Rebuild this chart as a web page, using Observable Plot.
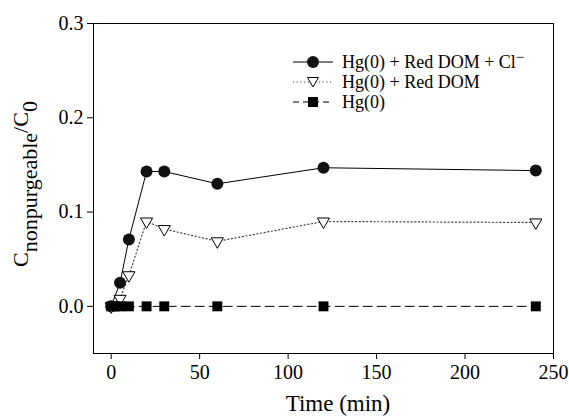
<!DOCTYPE html>
<html><head><meta charset="utf-8">
<script src="https://cdn.jsdelivr.net/npm/d3@7"></script>
<script src="https://cdn.jsdelivr.net/npm/@observablehq/plot@0.6"></script>
<style>body{margin:0;background:#fff;} svg{display:block;}</style>
</head><body><div id="chart"></div>
<script>
const seriesNames = ["Hg(0) + Red DOM + Cl", "Hg(0) + Red DOM", "Hg(0)"];
const timeCl = [0, 5, 10, 20, 30, 60, 120, 240];
const valCl = [0, 0.025, 0.071, 0.143, 0.143, 0.130, 0.147, 0.144];
const timeDom = [0, 5, 10, 20, 30, 60, 120, 240];
const valDom = [0, 0.008, 0.033, 0.090, 0.082, 0.069, 0.090, 0.089];
const timeHg = [0, 2, 5, 10, 20, 30, 60, 120, 240];
const valHg = [0, 0, 0, 0, 0, 0, 0, 0, 0];
const xTicks = [0, 50, 100, 150, 200, 250];
const yTicks = [0.0, 0.1, 0.2, 0.3];

const cl = timeCl.map((t, i) => ({t, v: valCl[i]}));
const dom = timeDom.map((t, i) => ({t, v: valDom[i]}));
const hg = timeHg.map((t, i) => ({t, v: valHg[i]}));

const font = "'Liberation Serif', 'Times New Roman', serif";
const W = 569, H = 420, mL = 93, mR = 16, mT = 23, mB = 67;

const chart = Plot.plot({
  width: W, height: H,
  marginLeft: mL, marginRight: mR, marginTop: mT, marginBottom: mB,
  style: {fontFamily: font, background: "#fff", color: "#000"},
  x: {domain: [-10, 250], ticks: xTicks},
  y: {domain: [-0.05, 0.3], ticks: yTicks},
  marks: [
    Plot.frame({stroke: "#000", strokeWidth: 1}),
    Plot.axisX({ticks: xTicks, tickSize: 6, tickPadding: 5, fontSize: 20, tickFormat: d3.format("d"), label: null}),
    Plot.axisY({ticks: yTicks, tickSize: 6, tickPadding: 4, fontSize: 20, tickFormat: d3.format(".1f"), label: null}),
    Plot.line(dom, {x: "t", y: "v", stroke: "#444", strokeWidth: 1.2, strokeDasharray: "1.2,2.5"}),
    Plot.line(cl, {x: "t", y: "v", stroke: "#000", strokeWidth: 1}),
    Plot.dot(cl, {x: "t", y: "v", symbol: "circle", r: 6, fill: "#111", stroke: "none"}),
    Plot.dot(dom, {x: "t", y: "v", symbol: "triangle", rotate: 180, r: 4.5, fill: "#fff", stroke: "#000", strokeWidth: 1}),
    Plot.line(hg, {x: "t", y: "v", stroke: "#000", strokeWidth: 1, strokeDasharray: "9,5"}),
    Plot.dot(hg, {x: "t", y: "v", symbol: "square", r: 5.6, fill: "#000", stroke: "none"})
  ]
});

const svg = d3.select(chart);
// X label
svg.append("text").attr("x", 338).attr("y", 411)
  .attr("text-anchor", "middle").attr("font-family", font).attr("font-size", 23).attr("fill", "#000")
  .text("Time (min)");
// Y label with subscripts
const yl = svg.append("text").attr("transform", "translate(28,184) rotate(-90)")
  .attr("text-anchor", "middle").attr("font-family", font).attr("font-size", 22).attr("fill", "#000");
yl.append("tspan").text("C");
yl.append("tspan").attr("baseline-shift", "-40%").text("nonpurgeable");
yl.append("tspan").text("/C");
yl.append("tspan").attr("baseline-shift", "-40%").text("0");

// Legend
const lx0 = 293, lx1 = 333, tx = 342, rows = [62, 82, 102];
const lg = svg.append("g");
const styles = [
  {dash: null, stroke: "#000"},
  {dash: "1.2,2.5", stroke: "#444"},
  {dash: "6,4", stroke: "#000"}
];
rows.forEach((y, i) => {
  lg.append("line").attr("x1", lx0).attr("x2", lx1).attr("y1", y).attr("y2", y)
    .attr("stroke", styles[i].stroke).attr("stroke-width", 1.2)
    .attr("stroke-dasharray", styles[i].dash);
  const cx = (lx0 + lx1) / 2;
  if (i === 0) lg.append("circle").attr("cx", cx).attr("cy", y).attr("r", 6).attr("fill", "#111");
  if (i === 1) lg.append("path").attr("d", `M${cx-5.5},${y-4.5}L${cx+5.5},${y-4.5}L${cx},${y+5}Z`).attr("fill", "#fff").attr("stroke", "#000");
  if (i === 2) lg.append("rect").attr("x", cx - 5).attr("y", y - 5).attr("width", 10).attr("height", 10).attr("fill", "#000");
  const t = lg.append("text").attr("x", tx).attr("y", y).attr("dy", "0.35em").attr("text-anchor", "start")
    .attr("font-family", font).attr("font-size", 18).attr("fill", "#000");
  t.append("tspan").text(seriesNames[i]);
  if (i === 0) t.append("tspan").attr("baseline-shift", "40%").attr("font-size", 15).text("\u2212");
});

document.getElementById("chart").appendChild(chart);
</script></body></html>
